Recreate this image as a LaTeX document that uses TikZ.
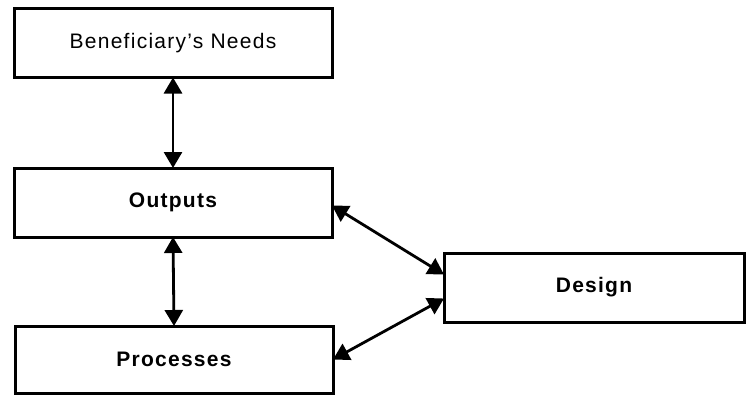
\documentclass[tikz,border=0pt]{standalone}
\usepackage{fontspec}
\setmainfont{Liberation Sans}[LetterSpace=6]
\usetikzlibrary{arrows.meta}
\begin{document}
\begin{tikzpicture}[x=1pt,y=-1pt,
  blockbox/.style={draw=black, line width=3pt, fill=white, inner sep=0pt, outer sep=0pt,
    minimum height=69pt, font=\fontsize{21}{24}\selectfont},
  boldbox/.style={blockbox, font=\fontsize{21}{24}\selectfont\bfseries},
  link/.style={line width=2.8pt, {Triangle[length=16pt,width=18pt]}-{Triangle[length=16pt,width=18pt]}}]
  \useasboundingbox (0,0) rectangle (746,396);
  % left column
  \node[blockbox, minimum width=318pt] (needs) at (173,43) {Beneficiary's Needs};
  \node[boldbox, minimum width=318pt] (outputs) at (173,202.5) {Outputs};
  \node[boldbox, minimum width=318pt, minimum height=67pt] (processes) at (174,359.5) {Processes};
  % right block
  \node[boldbox, minimum width=300pt] (design) at (594,287.5) {Design};
  % connectors
  \draw[link] (needs.south) -- (outputs.north);
  \draw[link] (outputs.south) -- (processes.north);
  \draw[link] ([yshift=-3pt]outputs.east) -- ([yshift=13pt]design.west);
  \draw[link] (processes.east) -- ([yshift=-11pt]design.west);
\end{tikzpicture}
\end{document}
